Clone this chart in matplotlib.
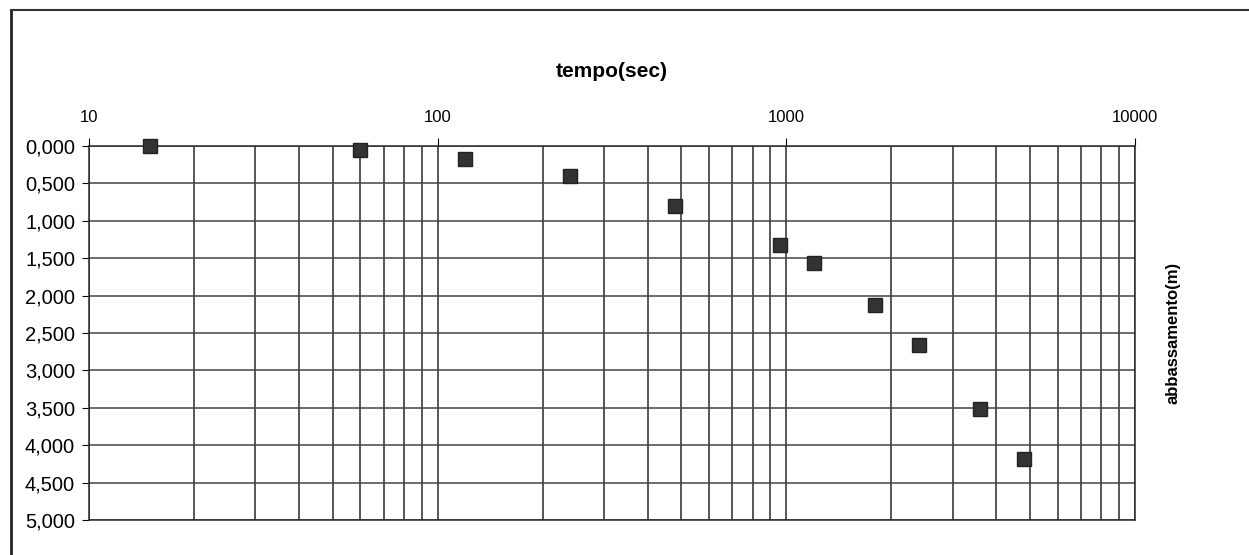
import numpy as np
import matplotlib.pyplot as plt
from matplotlib.ticker import FixedLocator, LogLocator, NullFormatter
from matplotlib.lines import Line2D

plt.rcParams['font.family'] = ['Liberation Sans', 'DejaVu Sans']

# dati
tempo = [15, 60, 120, 240, 480, 960, 1200, 1800, 2400, 3600, 4800]
abbassamento = [0.0, 0.05, 0.17, 0.40, 0.80, 1.32, 1.56, 2.13, 2.66, 3.52, 4.18]
yticks = [0, 0.5, 1, 1.5, 2, 2.5, 3, 3.5, 4, 4.5, 5]
xticks = [10, 100, 1000, 10000]

fig = plt.figure(figsize=(12.49, 5.55), dpi=100)
ax = fig.add_axes([89 / 1249, 1 - 520 / 555, (1135 - 89) / 1249, (520 - 146) / 555])

ax.plot(tempo, abbassamento, linestyle='none', marker='s', markersize=9.5,
        color='#333333', markeredgecolor='#222222', zorder=3, clip_on=False)

ax.set_xscale('log')
ax.set_xlim(10, 10000)
ax.set_ylim(5, 0)

ax.xaxis.tick_top()
ax.xaxis.set_major_locator(FixedLocator(xticks))
ax.xaxis.set_minor_locator(LogLocator(base=10, subs=np.arange(2, 10)))
ax.xaxis.set_minor_formatter(NullFormatter())
ax.set_xticks(xticks)
ax.set_xticklabels([str(v) for v in xticks], fontsize=12)
ax.tick_params(axis='x', which='major', direction='out', length=6, pad=9)
ax.tick_params(axis='x', which='minor', length=0)

ax.set_yticks(yticks)
ax.set_yticklabels([f'{v:.3f}'.replace('.', ',') for v in yticks], fontsize=14.5)
ax.tick_params(axis='y', direction='out', length=5, pad=5)

ax.grid(True, which='both', axis='x', color='#2a2a2a', linewidth=1.1)
ax.grid(True, which='major', axis='y', color='#444444', linewidth=1.1)
for s in ax.spines.values():
    s.set_color('#2a2a2a')
    s.set_linewidth(1.1)

ax.set_title('tempo(sec)', fontsize=15, fontweight='bold', pad=50)
ax.yaxis.set_label_position('right')
ax.set_ylabel('abbassamento(m)', fontsize=12, fontweight='bold', labelpad=22)

# cornice esterna
fig.add_artist(Line2D([11 / 1249, 11 / 1249], [0, 1 - 10 / 555], color='#222222', linewidth=2, transform=fig.transFigure))
fig.add_artist(Line2D([11 / 1249, 1], [1 - 10 / 555, 1 - 10 / 555], color='#333333', linewidth=1.5, transform=fig.transFigure))

fig.savefig('out.png', dpi=100)
